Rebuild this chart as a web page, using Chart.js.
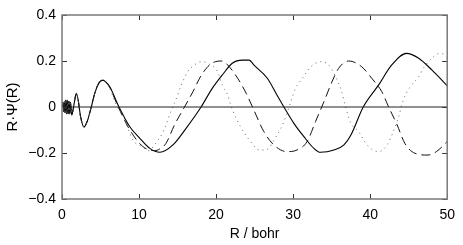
<!DOCTYPE html>
<html>
<head>
<meta charset="utf-8">
<script src="https://cdn.jsdelivr.net/npm/chart.js@4.4.0/dist/chart.umd.min.js"></script>
<style>
  html, body { margin: 0; padding: 0; background: #fff; }
  #wrap { width: 463px; height: 245px; }
</style>
</head>
<body>
<div id="wrap"><canvas id="chart" width="463" height="245"></canvas></div>
<script>
// shared fast oscillation near the origin (all three curves overlap here)
const rCore   = [0, 0.1, 0.2, 0.3, 0.4, 0.5, 0.6, 0.7, 0.8, 0.9, 1.0, 1.1, 1.25, 1.45, 1.65, 1.85, 2.1, 2.4, 2.85, 3.3, 3.8, 4.3, 4.8, 5.3, 5.8];
const psiCore = [0, 0.02, -0.02, 0.025, -0.025, 0.03, -0.03, 0.03, -0.03, 0.025, -0.03, 0.02, -0.035, -0.01, 0.03, 0.058, 0.03, -0.04, -0.087, -0.06, 0, 0.065, 0.105, 0.117, 0.105];

// solid curve
const rSolid   = [6.2, 7.4, 8.8, 10.1, 11.4, 12.7, 14.4, 16.1, 18.05, 19.5, 20.8, 22.1, 23.4, 24.3, 24.9, 26.65, 27.9, 28.8, 30.1, 31.4, 32.7, 33.55, 35.3, 36.6, 37.5, 39.1, 41.1, 42.8, 44.7, 46.3, 48.0, 50];
const psiSolid = [0.088, 0, -0.086, -0.136, -0.18, -0.197, -0.165, -0.093, 0, 0.081, 0.139, 0.19, 0.204, 0.204, 0.183, 0.125, 0.052, 0, -0.071, -0.129, -0.18, -0.197, -0.187, -0.165, -0.122, 0, 0.096, 0.183, 0.233, 0.212, 0.161, 0.092];

// dashed curve
const rDashed   = [6.2, 7.3, 7.9, 8.8, 10.5, 12.0, 12.8, 13.5, 14.6, 15.9, 17.0, 18.05, 19.3, 20.8, 21.5, 22.8, 23.9, 24.9, 26.2, 27.5, 29.2, 30.5, 31.8, 32.9, 34.0, 35.05, 35.9, 37.2, 38.9, 40.2, 41.5, 42.4, 43.5, 44.5, 45.8, 47.5, 48.6, 50];
const psiDashed = [0.085, 0, -0.042, -0.1, -0.172, -0.19, -0.18, -0.158, -0.078, 0, 0.067, 0.136, 0.187, 0.2, 0.183, 0.125, 0.06, -0.013, -0.107, -0.165, -0.194, -0.187, -0.151, -0.064, 0.023, 0.11, 0.168, 0.2, 0.175, 0.125, 0.067, 0, -0.078, -0.158, -0.201, -0.209, -0.194, -0.15];

// dotted curve
const rDotted   = [6.2, 7.2, 7.9, 9.2, 10.5, 11.3, 12.0, 12.9, 13.5, 13.95, 14.6, 15.5, 16.3, 17.2, 18.05, 18.9, 20.2, 20.8, 21.5, 21.9, 22.6, 23.7, 24.5, 25.6, 26.4, 27.9, 28.8, 29.7, 30.3, 31.2, 32.3, 33.55, 34.6, 35.5, 36.3, 36.8, 37.4, 38.5, 39.6, 41.1, 42.2, 43.0, 43.7, 44.3, 45.2, 46.3, 46.9, 48.0, 49.05, 50];
const psiDotted = [0.08, 0, -0.035, -0.143, -0.175, -0.19, -0.165, -0.122, -0.078, -0.035, 0.016, 0.096, 0.153, 0.183, 0.197, 0.19, 0.153, 0.096, 0.052, 0.009, -0.049, -0.115, -0.151, -0.187, -0.187, -0.122, -0.064, 0.023, 0.081, 0.125, 0.175, 0.197, 0.183, 0.132, 0.067, 0.001, -0.064, -0.107, -0.165, -0.194, -0.165, -0.107, -0.042, 0.03, 0.088, 0.132, 0.168, 0.212, 0.233, 0.226];

// zero reference line
const rZero   = [0, 50];
const psiZero = [0, 0];

const xTicks = [0, 10, 20, 30, 40, 50];
const yTicks = [-0.4, -0.2, 0, 0.2, 0.4];

const toPts = (rs, ys) => rs.map((r, i) => ({ x: r, y: ys[i] }));

function fmtY(v) {
  if (Math.abs(v) < 1e-9) return '0';
  return (v < 0 ? '\u2212' : '') + Math.abs(v).toFixed(1);
}

// MATLAB-like box with inward ticks on all four sides
const frameTicks = {
  id: 'frameTicks',
  afterDatasetsDraw(chart) {
    const { ctx, chartArea: a, scales: { x, y } } = chart;
    const len = 5;
    ctx.save();
    ctx.strokeStyle = '#333';
    ctx.lineWidth = 1;
    ctx.beginPath();
    xTicks.forEach((v) => {
      const px = Math.round(x.getPixelForValue(v)) + 0.5;
      ctx.moveTo(px, a.bottom); ctx.lineTo(px, a.bottom - len);
      ctx.moveTo(px, a.top); ctx.lineTo(px, a.top + len);
    });
    yTicks.forEach((v) => {
      const py = Math.round(y.getPixelForValue(v)) + 0.5;
      ctx.moveTo(a.left, py); ctx.lineTo(a.left + len, py);
      ctx.moveTo(a.right, py); ctx.lineTo(a.right - len, py);
    });
    ctx.stroke();
    ctx.strokeStyle = '#7a7a7a';
    ctx.lineWidth = 1.5;
    ctx.strokeRect(a.left, a.top, a.right - a.left, a.bottom - a.top);
    ctx.restore();
  }
};

const font = { family: '"Liberation Sans", Arial, sans-serif', size: 14 };

new Chart(document.getElementById('chart').getContext('2d'), {
  type: 'line',
  data: {
    datasets: [
      { data: toPts(rZero, psiZero), borderColor: '#222', borderWidth: 1.2, pointRadius: 0, tension: 0 },
      { data: toPts(rCore.concat(rDotted), psiCore.concat(psiDotted)), borderColor: '#666', borderWidth: 1, borderDash: [1, 4], pointRadius: 0, cubicInterpolationMode: 'monotone' },
      { data: toPts(rCore.concat(rDashed), psiCore.concat(psiDashed)), borderColor: '#111', borderWidth: 1, borderDash: [9, 5], pointRadius: 0, cubicInterpolationMode: 'monotone' },
      { data: toPts(rCore.concat(rSolid), psiCore.concat(psiSolid)), borderColor: '#000', borderWidth: 1.1, pointRadius: 0, cubicInterpolationMode: 'monotone' }
    ]
  },
  options: {
    responsive: false,
    animation: false,
    parsing: false,
    layout: { padding: { top: 15, right: 14, left: 0, bottom: 0 } },
    plugins: { legend: { display: false }, tooltip: { enabled: false } },
    scales: {
      x: {
        type: 'linear', min: 0, max: 50,
        afterBuildTicks: (s) => { s.ticks = xTicks.map((v) => ({ value: v })); },
        afterFit: (s) => { s.height = 46; },
        grid: { display: false, drawTicks: false },
        border: { display: false },
        ticks: { color: '#000', font, padding: 8, maxRotation: 0, callback: (v) => String(v) },
        title: { display: true, text: 'R / bohr', color: '#000', font, padding: { top: 0, bottom: 2 } }
      },
      y: {
        type: 'linear', min: -0.4, max: 0.4,
        afterBuildTicks: (s) => { s.ticks = yTicks.map((v) => ({ value: v })); },
        afterFit: (s) => { s.width = 62; },
        grid: { display: false, drawTicks: false },
        border: { display: false },
        ticks: { color: '#000', font, padding: 6, callback: (v) => fmtY(v) },
        title: { display: true, text: 'R\u00b7\u03a8(R)', color: '#000', font: { family: font.family, size: 15 }, padding: { top: 4, bottom: 0 } }
      }
    }
  },
  plugins: [frameTicks]
});
</script>
</body>
</html>
